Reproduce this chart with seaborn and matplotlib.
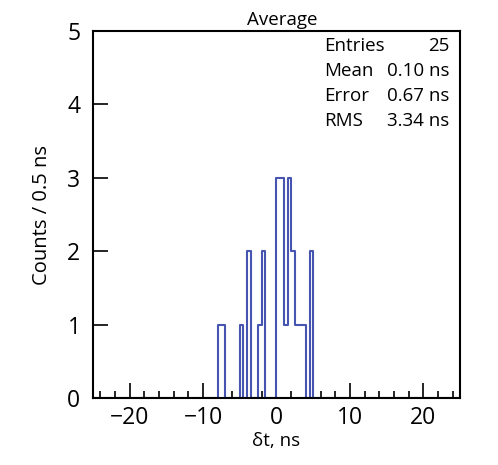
import numpy as np
import pandas as pd
import matplotlib
matplotlib.use("Agg")
import matplotlib.pyplot as plt
import seaborn as sns
from matplotlib.ticker import MultipleLocator

# bin left edges (ns) with non-zero counts
bin_left = [-8.0, -7.5, -5.0, -4.0, -2.5, -2.0, 0.0, 0.5, 1.0, 1.5, 2.0, 2.5, 3.0, 3.5, 4.5]
counts = [1, 1, 1, 2, 1, 2, 3, 3, 1, 3, 2, 1, 1, 1, 2]

stat_names = ["Entries", "Mean", "Error", "RMS"]
stat_values = ["25", "0.10 ns", "0.67 ns", "3.34 ns"]

bin_width = 0.5
df = pd.DataFrame({"dt": np.array(bin_left) + bin_width / 2, "n": counts})

sns.set_style("ticks")
plt.rcParams["font.family"] = ["Open Sans", "DejaVu Sans"]
plt.rcParams["text.color"] = "black"

fig = plt.figure(figsize=(4.98, 4.65), dpi=100)
ax = fig.add_axes([0.1867, 0.1441, 0.7370, 0.7892])

sns.histplot(data=df, x="dt", weights="n", binwidth=bin_width, binrange=(-25, 25),
             element="step", fill=False, color="#4656b0", linewidth=1.5, ax=ax)

ax.set_xlim(-25, 25)
ax.set_ylim(0, 5)
ax.xaxis.set_major_locator(MultipleLocator(10))
ax.xaxis.set_minor_locator(MultipleLocator(2))
ax.yaxis.set_major_locator(MultipleLocator(1))
ax.tick_params(axis="both", which="major", direction="in", length=10.5, width=1.2,
               labelsize=16.5, color="black", labelcolor="black")
ax.tick_params(axis="x", which="major", pad=6)
ax.tick_params(axis="y", which="major", pad=9)
ax.tick_params(axis="x", which="minor", direction="in", length=5, width=1.2, color="black")
ax.tick_params(top=False, right=False, which="both")
for s in ax.spines.values():
    s.set_visible(True)
    s.set_linewidth(1.5)
    s.set_color("black")

ax.set_xlabel("δt, ns", fontsize=13.5, labelpad=1, color="black")
ax.set_ylabel("Counts / 0.5 ns", fontsize=14.5, labelpad=11, color="black")
ax.set_title("Average", fontsize=13.5, pad=4, x=(282 - 93) / 367, color="black")

# stats block
for i, (nm, val) in enumerate(zip(stat_names, stat_values)):
    y = 46 + 25 * i
    fig.text(324 / 498, 1 - y / 465, nm, ha="left", va="center", fontsize=13.5, color="black")
    fig.text(449 / 498, 1 - y / 465, val, ha="right", va="center", fontsize=13.5, color="black")

fig.savefig("out.png", dpi=100)
